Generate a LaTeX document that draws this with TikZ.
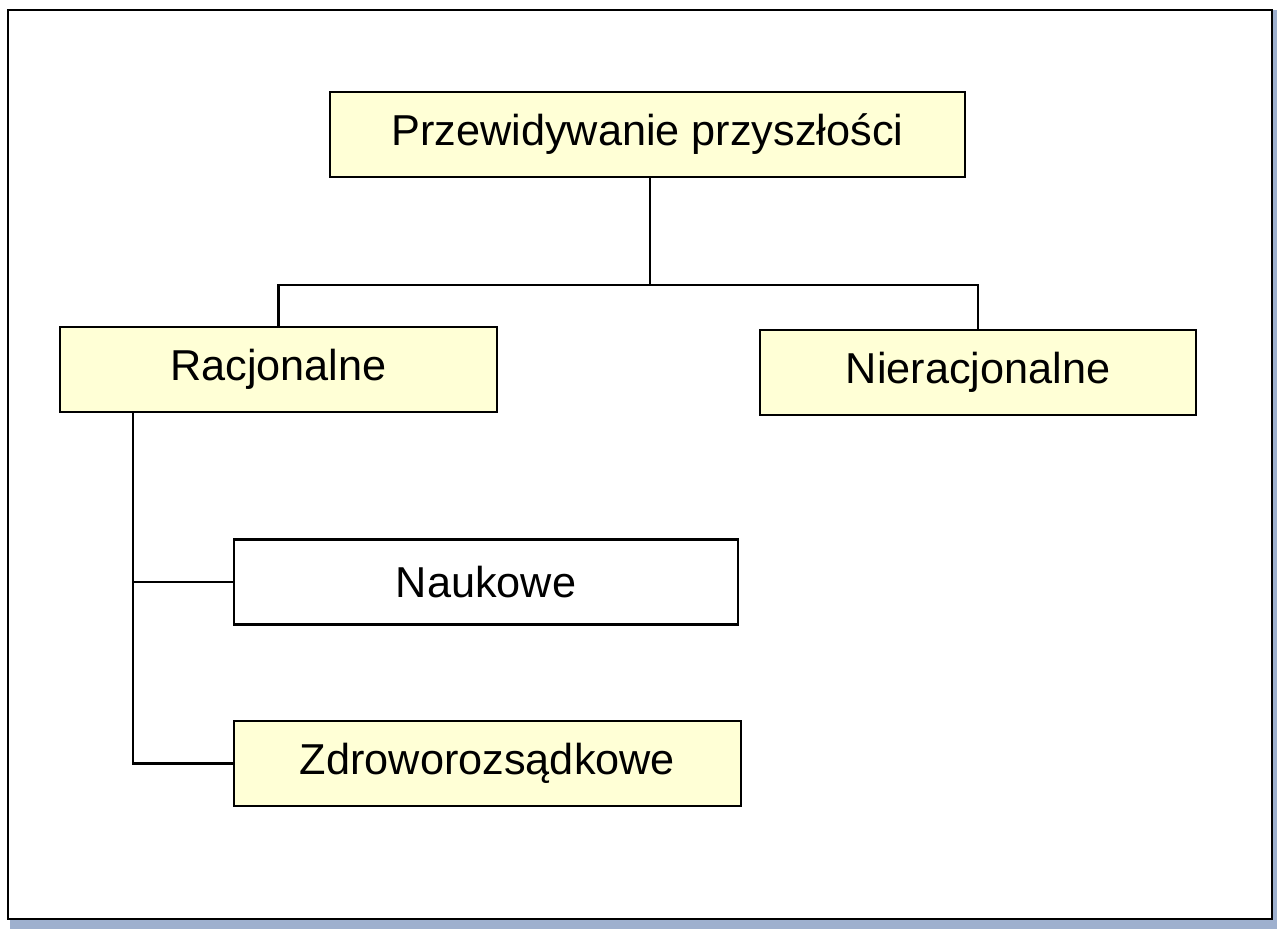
\documentclass[tikz,border=0pt]{standalone}
\usepackage{fontspec}
\setmainfont{Liberation Sans}
\usepackage{tikz}
\definecolor{boxfill}{RGB}{255,255,214}
\definecolor{shadowblue}{RGB}{158,176,206}

\begin{document}
\begin{tikzpicture}[x=0.01cm, y=-0.01cm,
    box/.style={draw, line width=0.7pt, fill=boxfill, minimum height=0.85cm, inner sep=0pt, font=\fontsize{12.3}{14}\selectfont},
    conn/.style={draw, line width=0.6pt}]
    \useasboundingbox (0,0) rectangle (1277,929);
    \fill[white] (0,0) rectangle (1277,929);
    \fill[shadowblue] (10,919) rectangle (1277,929);
    \fill[shadowblue] (1272,10) rectangle (1277,929);
    \draw[line width=0.75pt, fill=white] (8,10) rectangle (1272,919);

    \node[box, minimum width=6.35cm] (top) at (647.5,134.5) {Przewidywanie przyszłości};
    \node[box, minimum width=4.37cm] (rac) at (278.5,369.5) {Racjonalne};
    \node[box, minimum width=4.36cm] (nierac) at (978,372.5) {Nieracjonalne};
    \node[box, minimum width=5.04cm, fill=white] (nauk) at (486,582) {Naukowe};
    \node[box, minimum width=5.07cm] (zdrow) at (487.5,763.5) {Zdroworozsądkowe};

    \coordinate (split) at (650,285);
    \coordinate (trunk) at (133,412);

    \draw[conn] (top.south -| split) -- (split);
    \draw[conn] (rac.north) |- (split) -| (nierac.north);
    \draw[conn] (trunk) |- (zdrow.west);
    \draw[conn] (nauk.west) -- (nauk.west -| trunk);
\end{tikzpicture}
\end{document}
